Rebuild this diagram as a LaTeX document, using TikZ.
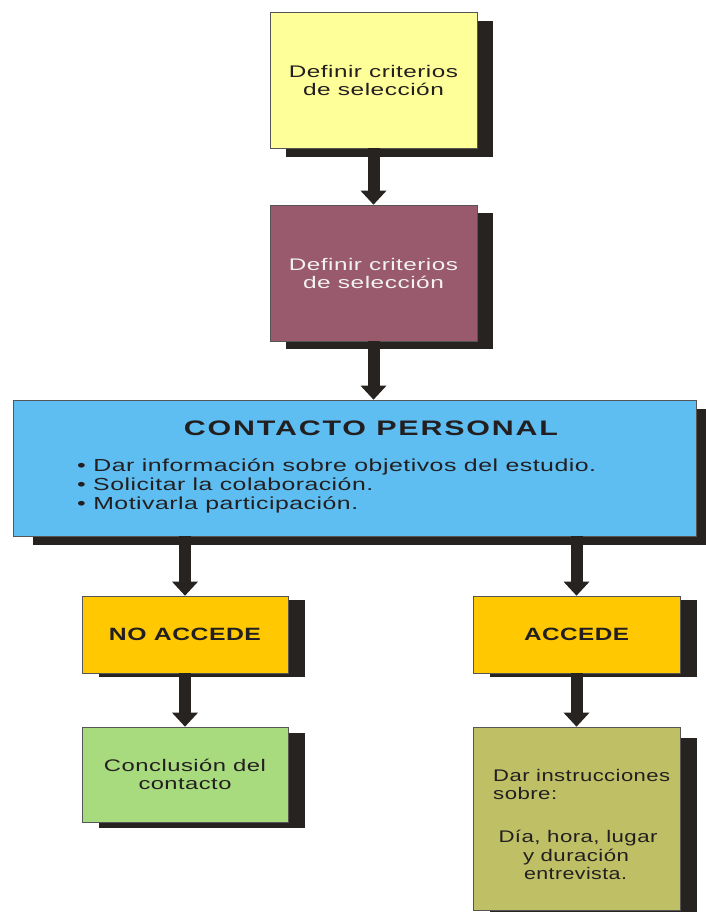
\documentclass[tikz,border=0pt]{standalone}
\usepackage{fontspec}
\usepackage{graphicx}
\setmainfont{Liberation Sans}
\newfontfamily\bodyf[LetterSpace=2]{Liberation Sans}
\newfontfamily\titlef[LetterSpace=6]{Liberation Sans}
\usetikzlibrary{arrows.meta,shadows}
\newcommand\fitw[2]{\resizebox{#1pt}{\height}{#2}}
\definecolor{cyel}{HTML}{FFFF99}
\definecolor{cpur}{HTML}{985A6C}
\definecolor{cblu}{HTML}{5EBEF2}
\definecolor{corg}{HTML}{FFC800}
\definecolor{cgrn}{HTML}{A8DB7D}
\definecolor{coli}{HTML}{BFBF66}
\definecolor{shcol}{HTML}{262320}
\definecolor{bcol}{HTML}{555555}
\definecolor{txt}{HTML}{231F20}
\definecolor{wtxt}{HTML}{F2F2F2}
\begin{document}
\begin{tikzpicture}[x=1pt,y=-1pt,
  box/.style={draw=bcol,line width=0.7pt,inner sep=0pt,align=center,text=txt,
    font=\bodyf\fontsize{16.8}{18}\selectfont},
  shad/.style 2 args={drop shadow={shadow xshift=#1,shadow yshift=-#2,fill=shcol,opacity=1}},
  bodytext/.style={inner sep=0pt,text=txt,font=\bodyf\fontsize{16.8}{18}\selectfont},
  listtext/.style={inner sep=0pt,text=txt,anchor=base west,font=\bodyf\fontsize{17.4}{19}\selectfont},
  boldtext/.style={font=\bodyf\bfseries\fontsize{17.8}{20}\selectfont},
  arr/.style={line width=12pt,draw=shcol,-{Triangle[width=26pt,length=14pt,line width=0pt]}}
]
\useasboundingbox (0,0) rectangle (706,912);

\node[box,fill=cyel,minimum width=207pt,minimum height=136pt,shad={16pt}{9pt}] (b1) at (373.5,80)
  {\fitw{169}{Definir criterios}\\\fitw{141}{de selección}};
\node[box,fill=cpur,text=wtxt,minimum width=207pt,minimum height=136pt,shad={16pt}{8pt}] (b2) at (373.5,273)
  {\fitw{169}{Definir criterios}\\\fitw{141}{de selección}};
\node[box,fill=cblu,minimum width=683pt,minimum height=136pt,shad={20pt}{9pt}] (b3) at (354.5,468) {};
\node[box,boldtext,fill=corg,minimum width=206pt,minimum height=77pt,shad={17pt}{4pt}] (b4) at (185,634.5)
  {\fitw{152}{NO ACCEDE}};
\node[box,boldtext,fill=corg,minimum width=207pt,minimum height=77pt,shad={17pt}{4pt}] (b5) at (576.5,634.5)
  {\fitw{105}{ACCEDE}};
\node[box,fill=cgrn,minimum width=206pt,minimum height=95pt,shad={17pt}{6pt}] (b6) at (185,774.5)
  {\fitw{162}{Conclusión del}\\\fitw{93}{contacto}};
\node[box,fill=coli,minimum width=207pt,minimum height=183pt,shad={17pt}{11pt}] (b7) at (576.5,818.5) {};

% texts in the blue box
\node[inner sep=0pt,text=txt,font=\titlef\bfseries\fontsize{21}{24}\selectfont] (title) at (371,428)
  {\fitw{374}{CONTACTO PERSONAL}};
\node[listtext] (l1) at (77,471) {\fitw{519}{• Dar información sobre objetivos del estudio.}};
\node[listtext] (l2) at (77,490) {\fitw{296}{• Solicitar la colaboración.}};
\node[listtext] (l3) at (77,509) {\fitw{281}{• Motivarla participación.}};

% texts in the olive box
\node[bodytext,anchor=base west] (o1) at (493,781) {\fitw{177}{Dar instrucciones}};
\node[bodytext,anchor=base west] (o2) at (493,799) {\fitw{64}{sobre:}};
\node[bodytext,anchor=base] (o3) at (578,842) {\fitw{159}{Día, hora, lugar}};
\node[bodytext,anchor=base] (o4) at (576,861) {\fitw{106}{y duración}};
\node[bodytext,anchor=base] (o5) at (575.5,879) {\fitw{103}{entrevista.}};

% connectors
\draw[arr] (b1.south) -- (b2.north);
\draw[arr] (b2.south) -- (b3.north -| b2.south);
\draw[arr] (b3.south -| b4.north) -- (b4.north);
\draw[arr] (b3.south -| b5.north) -- (b5.north);
\draw[arr] (b4.south) -- (b6.north);
\draw[arr] (b5.south) -- (b7.north);
\end{tikzpicture}
\end{document}
